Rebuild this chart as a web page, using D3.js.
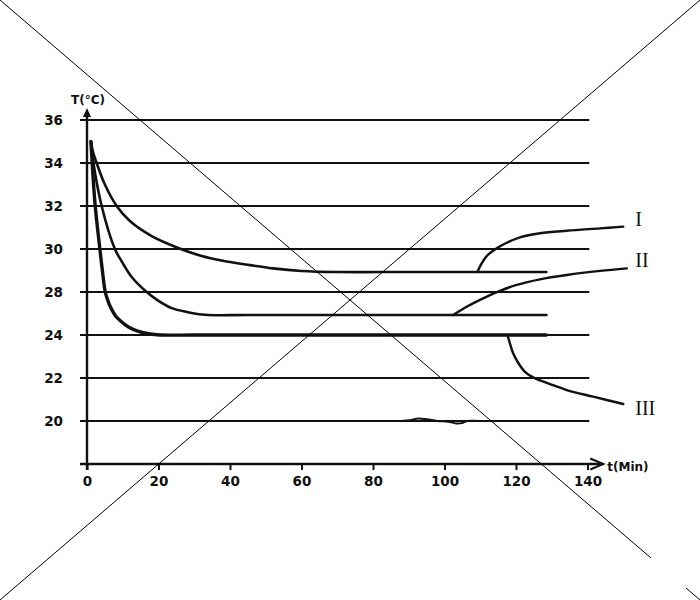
<!DOCTYPE html>
<html>
<head>
<meta charset="utf-8">
<script src="https://cdn.jsdelivr.net/npm/d3@7/dist/d3.min.js"></script>
<style>
  html, body { margin: 0; padding: 0; background: #fff; }
  svg { display: block; }
</style>
</head>
<body>
<svg id="chart" width="700" height="600"></svg>
<script>
// ---------- data ----------
const xTicks = [0, 20, 40, 60, 80, 100, 120, 140];
// grid levels as labelled on the original (note: the original skips 26)
const yLevels = [36, 34, 32, 30, 28, 24, 22, 20];
const yAxisBase = 18;
const yLabelText = "T(°C)";
const xLabelText = "t(Min)";

// cooling curves: [time (min), temperature]
const curveI = [[1.1,35],[1.7,34.5],[2.7,34],[5,33],[8.3,32],[12,31.3],[18.1,30.6],[25.5,30.05],[31.6,29.7],[38,29.45],[45.6,29.25],[52,29.1],[60,28.98],[70,28.93],[90,28.93],[110,28.93],[128.5,28.93]];
const curveII = [[1.1,35],[1.8,34],[4.1,32],[7.8,30],[9.8,29.4],[12.5,28.7],[16.7,28],[19.9,27.2],[23.7,26.5],[28,26.14],[33,25.88],[45,25.86],[80,25.86],[128.5,25.86]];
const curveIII = [[1.1,35],[1.6,33.6],[2.3,32],[3.6,30],[4.3,29],[5.1,28],[5.6,27.44],[6.2,26.88],[7.0,26.33],[8.0,25.77],[9.4,25.3],[11.6,24.74],[14.4,24.33],[17.6,24.09],[20.4,24],[30,24],[60,24],[100,24],[128.5,24]];
// branches after the change of conditions
const branchI = [[109.2,28.93],[110.4,29.33],[111.8,29.67],[114.6,30.03],[117.4,30.29],[121.1,30.54],[126.7,30.73],[134.2,30.85],[143.5,30.96],[150,31.04]];
const branchII = [[102.4,25.86],[106.2,26.63],[110.8,27.41],[115.5,28.05],[120.2,28.33],[126.7,28.59],[134.2,28.79],[143.5,28.98],[151,29.1]];
const branchIII = [[117.6,24],[118.3,23.61],[119.2,23.15],[120.6,22.71],[122.5,22.29],[124.8,22.03],[129.5,21.72],[134.2,21.44],[141.6,21.13],[150,20.79]];
const wiggle20 = [[88,20],[90.3,20.03],[92.6,20.12],[95.1,20.08],[98,20.0],[101,19.97],[103.5,19.88],[104.9,19.9],[106.3,20.0],[110,20]];
const curveLabels = [
  {text: "I", x: 150.0, y: 31.4},
  {text: "II", x: 150.0, y: 29.5},
  {text: "III", x: 150.0, y: 20.6}
];

// ---------- layout ----------
const W = 700, H = 600;
const pL = 87, pR = 587.5, pT = 120, pB = 464;
const svg = d3.select("#chart");

const x = d3.scaleLinear().domain([0, 140]).range([pL, pR]);
const yDomain = yLevels.concat([yAxisBase]);
const yStep = (pB - pT) / (yDomain.length - 1);
const y = d3.scaleLinear().domain(yDomain).range(yDomain.map((d, i) => pT + i * yStep));

const ink = "#111";
const gx0 = pL - 7, gx1 = x(140.5);

// grid lines
svg.append("g").selectAll("line").data(yLevels).join("line")
  .attr("x1", gx0).attr("x2", gx1)
  .attr("y1", d => y(d)).attr("y2", d => y(d))
  .attr("stroke", ink).attr("stroke-width", 2.2);

// y tick labels
svg.append("g").selectAll("text").data(yLevels).join("text")
  .attr("x", 63).attr("y", d => y(d)).attr("dy", "0.36em")
  .attr("text-anchor", "end")
  .attr("font-family", "DejaVu Sans, sans-serif").attr("font-weight", "bold")
  .attr("font-size", 13.5).attr("fill", ink)
  .text(d => d);

// x axis
const xAxisG = svg.append("g").attr("transform", `translate(0,${y(yAxisBase)})`)
  .call(d3.axisBottom(x).tickValues(xTicks).tickSize(6).tickPadding(6).tickFormat(d3.format("d")));
xAxisG.select(".domain").remove();
xAxisG.selectAll(".tick line").attr("stroke", ink).attr("stroke-width", 2);
xAxisG.selectAll(".tick text").attr("font-family", "DejaVu Sans, sans-serif").attr("font-weight", "bold")
  .attr("font-size", 13.5).attr("fill", ink);
svg.append("line").attr("x1", gx0).attr("x2", x(144.4)).attr("y1", y(yAxisBase)).attr("y2", y(yAxisBase))
  .attr("stroke", ink).attr("stroke-width", 2.4);
// x arrow (chevron)
const ax = x(144.4), ay = y(yAxisBase);
svg.append("path").attr("d", `M${ax-13},${ay-5.5} L${ax},${ay} L${ax-13},${ay+5.5}`)
  .attr("fill", "none").attr("stroke", ink).attr("stroke-width", 2);
svg.append("text").attr("x", ax + 4).attr("y", ay + 7)
  .attr("font-family", "DejaVu Sans, sans-serif").attr("font-weight", "bold")
  .attr("font-size", 12).attr("fill", ink).text(xLabelText);

// y axis
svg.append("line").attr("x1", pL).attr("x2", pL).attr("y1", pB + 6).attr("y2", pT - 8)
  .attr("stroke", ink).attr("stroke-width", 2.4);
svg.append("path").attr("d", `M${pL},${pT-12} L${pL-4},${pT-3} L${pL+4},${pT-3} Z`).attr("fill", ink);
svg.append("text").attr("x", pL + 1).attr("y", pT - 16).attr("text-anchor", "middle")
  .attr("font-family", "DejaVu Sans, sans-serif").attr("font-weight", "bold")
  .attr("font-size", 12).attr("fill", ink).text(yLabelText);

// curves
const line = d3.line().x(d => x(d[0])).y(d => y(d[1])).curve(d3.curveCatmullRom.alpha(0.5));
const curves = [
  {d: curveI, w: 2.6}, {d: curveII, w: 2.6}, {d: curveIII, w: 3.4},
  {d: branchI, w: 2.4}, {d: branchII, w: 2.4}, {d: branchIII, w: 2.4},
  {d: wiggle20, w: 2}
];
svg.append("g").selectAll("path").data(curves).join("path")
  .attr("d", c => line(c.d)).attr("fill", "none")
  .attr("stroke", ink).attr("stroke-width", c => c.w).attr("stroke-linecap", "round");

// curve labels (roman numerals)
svg.append("g").selectAll("text").data(curveLabels).join("text")
  .attr("x", d => x(d.x) + 12).attr("y", d => y(d.y)).attr("dy", "0.35em")
  .attr("font-family", "Liberation Serif, serif").attr("font-size", 20)
  .attr("fill", ink).text(d => d.text);

// watermark cross
svg.append("line").attr("x1", W).attr("y1", 0).attr("x2", 0).attr("y2", H)
  .attr("stroke", "#000").attr("stroke-width", 1);
svg.append("line").attr("x1", 0).attr("y1", 0).attr("x2", W * 0.93).attr("y2", H * 0.93)
  .attr("stroke", "#000").attr("stroke-width", 1);
svg.append("line").attr("x1", W * 0.98).attr("y1", H * 0.98).attr("x2", W).attr("y2", H)
  .attr("stroke", "#000").attr("stroke-width", 1);
</script>
</body>
</html>
